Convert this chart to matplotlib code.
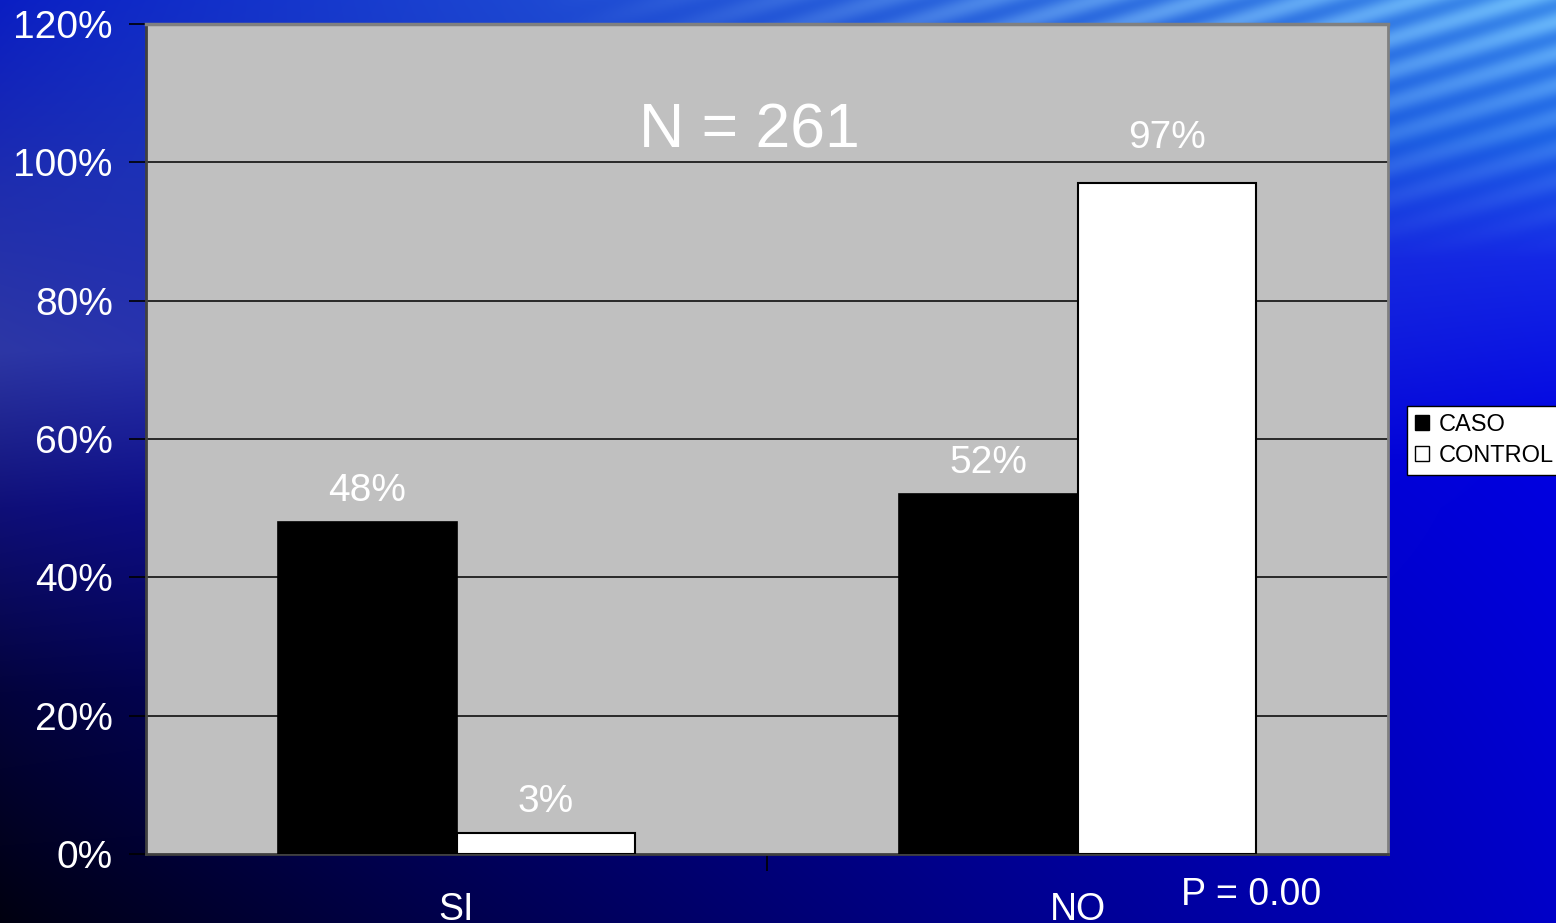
import numpy as np
import matplotlib
matplotlib.use("Agg")
import matplotlib.pyplot as plt
from matplotlib.patches import Patch

# ---- data ----
categories = ["SI", "NO"]
series_names = ["CASO", "CONTROL"]
caso = [48, 52]
control = [3, 97]
y_ticks = [0, 20, 40, 60, 80, 100, 120]
title_text = "N = 261"
p_text = "P = 0.00"

W, H = 1556, 923
fig = plt.figure(figsize=(W / 100, H / 100), dpi=100)
plt.rcParams['font.family'] = ['Liberation Sans', 'DejaVu Sans']

# ---- background gradient ----
bg = fig.add_axes([0, 0, 1, 1], zorder=-10)
bg.set_axis_off()
vv = np.linspace(1, 0, H)[:, None]
uu = np.linspace(0, 1, W)[None, :]
def col(stops, v):
    vs = [s[0] for s in stops]
    out = np.zeros(v.shape + (3,))
    for c in range(3):
        out[..., c] = np.interp(v, vs, [s[1][c] for s in stops])
    return out
left = col([(0.0, (0, 0, 15)), (0.25, (3, 3, 60)), (0.45, (15, 15, 120)),
            (0.62, (45, 55, 165)), (0.8, (30, 45, 175)), (1.0, (10, 30, 195))], vv[:, 0])
right = col([(0.0, (0, 0, 200)), (0.5, (0, 0, 225)), (0.72, (20, 40, 230)),
             (0.85, (30, 100, 230)), (1.0, (60, 140, 235))], vv[:, 0])
w = uu[0][None, :, None] ** 0.9
img = left[:, None, :] * (1 - w) + right[:, None, :] * w
yy, xx = np.mgrid[0:H, 0:W]
s = np.clip((uu - 0.35) / 0.4, 0, 1) * np.clip((vv - 0.72) / 0.25, 0, 1)
phase = (yy + 0.3 * xx) / 32.0 * 2 * np.pi
band = 0.5 + 0.5 * np.sin(phase)
img = img + (s * band)[..., None] * np.array([45, 45, 15])[None, None, :]
img = np.clip(img, 0, 255) / 255.0
bg.imshow(img, extent=[0, 1, 0, 1], aspect='auto', interpolation='bilinear')
bg.set_xlim(0, 1); bg.set_ylim(0, 1)

# ---- main axes ----
ax = fig.add_axes([146 / W, 1 - 854 / H, (1388 - 146) / W, (854 - 24) / H])
ax.set_facecolor('#C0C0C0')
x = np.arange(len(categories))
bw = 0.288
b1 = ax.bar(x - bw / 2, caso, bw, color='black', edgecolor='black', linewidth=1.2, zorder=3)
b2 = ax.bar(x + bw / 2, control, bw, color='white', edgecolor='black', linewidth=1.5, zorder=3)

ax.set_xlim(-0.5, 1.5)
ax.set_ylim(0, 120)
ax.set_yticks(y_ticks)
ax.set_yticklabels([f"{t}%" for t in y_ticks], color='white', fontsize=28)
ax.tick_params(axis='y', direction='out', length=12, width=1.2, color='black', pad=12)
for t in y_ticks[1:-1]:
    ax.axhline(t, color='black', linewidth=1.1, zorder=1)

ax.set_xticks([0.5])
ax.set_xticklabels([''])
ax.tick_params(axis='x', direction='out', length=12, width=1.2, color='black')
ax.set_xticks(x, minor=True)
ax.set_xticklabels(categories, minor=True, color='white', fontsize=27,
                   family=['Liberation Sans Narrow', 'Liberation Sans'])
ax.tick_params(axis='x', which='minor', length=0, pad=27)

for side, c, lw in [('top', '#808080', 2.5), ('right', '#808080', 2.0),
                    ('left', '#404040', 2.0), ('bottom', '#404040', 2.0)]:
    ax.spines[side].set_color(c)
    ax.spines[side].set_linewidth(lw)

label_offsets = {0: [15, 15], 1: [15, 25]}
for si, (bars, vals) in enumerate([(b1, caso), (b2, control)]):
    for i, (rect, v) in enumerate(zip(bars, vals)):
        ax.annotate(f"{v}%", (rect.get_x() + rect.get_width() / 2, v),
                    xytext=(0, label_offsets[si][i]), textcoords='offset points',
                    ha='center', va='baseline', color='white', fontsize=28, zorder=5)

ax.text(0.471, 104.6, title_text, ha='center', va='center',
        color='white', fontsize=45, zorder=5)

fig.text(1251 / W, 1 - 905 / H, p_text, ha='center', va='baseline',
         color='white', fontsize=27)

handles = [Patch(facecolor='black', edgecolor='black', label=series_names[0]),
           Patch(facecolor='white', edgecolor='black', label=series_names[1])]
leg = fig.legend(handles=handles, loc='upper left',
                 bbox_to_anchor=(1407 / W, 1 - 406 / H), fontsize=17,
                 frameon=True, fancybox=False, edgecolor='black', framealpha=1,
                 handlelength=0.6, handleheight=0.6, handletextpad=0.4,
                 borderpad=0.35, labelspacing=0.35, borderaxespad=0)
leg.get_frame().set_linewidth(1.0)
leg.get_frame().set_facecolor('white')

fig.savefig("out.png", dpi=100)
